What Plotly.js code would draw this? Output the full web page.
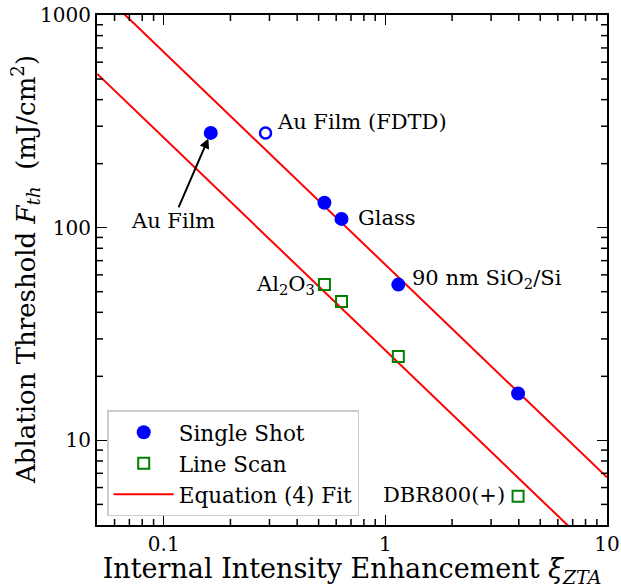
<!DOCTYPE html>
<html>
<head>
<meta charset="utf-8">
<script src="https://cdn.plot.ly/plotly-3.0.1.min.js"></script>
<style>html,body{margin:0;padding:0;background:#fff;}#chart{width:621px;height:588px;}</style>
</head>
<body>
<div id="chart"></div>
<script>
// Single shot (filled circles)
const singleX = [0.163, 0.531, 0.634, 1.144, 3.97];
const singleY = [279, 131, 110, 54, 16.6];
// Au film FDTD (open circle)
const fdtdX = [0.288];
const fdtdY = [279];
// Line scan (open squares)
const lineX = [0.531, 0.634, 1.144, 3.97];
const lineY = [54, 45, 24.8, 5.46];
// Equation (4) fit lines (endpoints)
const fitUpperX = [0.05, 10];
const fitUpperY = [1340, 6.7];
const fitLowerX = [0.05, 10];
const fitLowerY = [530, 2.65];
// Ticks
const xMajor = [0.1, 1, 10];
const xMajorText = ['0.1', '1', '10'];
const yMajor = [10, 100, 1000];
const yMajorText = ['10', '100', '1000'];
const xMinor = [0.06, 0.07, 0.08, 0.09, 0.2, 0.3, 0.4, 0.5, 0.6, 0.7, 0.8, 0.9, 2, 3, 4, 5, 6, 7, 8, 9];
const yMinor = [5, 6, 7, 8, 9, 20, 30, 40, 50, 60, 70, 80, 90, 200, 300, 400, 500, 600, 700, 800, 900];
// Labels
const labels = [
  {text: 'Au Film (FDTD)', x: 0.288, y: 279, xanchor: 'left', xshift: 9, yshift: 11},
  {text: 'Glass', x: 0.634, y: 110, xanchor: 'left', xshift: 14, yshift: 1},
  {text: '90 nm SiO<sub>2</sub>/Si', x: 1.144, y: 54, xanchor: 'left', xshift: 12, yshift: 6},
  {text: 'Al<sub>2</sub>O<sub>3</sub>', x: 0.531, y: 54, xanchor: 'right', xshift: -7, yshift: 0},
  {text: 'DBR800(+)', x: 3.97, y: 5.46, xanchor: 'right', xshift: -11, yshift: 1}
];

const F = 'DejaVu Serif, serif';
const traces = [
  {x: fitUpperX, y: fitUpperY, mode: 'lines', line: {color: '#ff0000', width: 2}, name: 'Equation (4) Fit', showlegend: false},
  {x: fitLowerX, y: fitLowerY, mode: 'lines', line: {color: '#ff0000', width: 2}, name: 'Equation (4) Fit', showlegend: false},
  {x: singleX, y: singleY, mode: 'markers', marker: {color: '#0000ff', size: 14, symbol: 'circle'}, name: 'Single Shot'},
  {x: fdtdX, y: fdtdY, mode: 'markers', marker: {color: '#ffffff', size: 11, symbol: 'circle', line: {color: '#0000ff', width: 2.5}}, showlegend: false},
  {x: lineX, y: lineY, mode: 'markers', marker: {color: 'rgba(0,0,0,0)', size: 11, symbol: 'square', line: {color: '#008000', width: 2}}, name: 'Line Scan'},
  {x: [null], y: [null], mode: 'lines', line: {color: '#ff0000', width: 2}, name: 'Equation (4) Fit'}
];

const annotations = labels.map(l => ({
  x: Math.log10(l.x), y: Math.log10(l.y), xref: 'x', yref: 'y', text: l.text, showarrow: false,
  xanchor: l.xanchor, yanchor: 'middle', xshift: l.xshift, yshift: l.yshift,
  font: {family: F, size: 21, color: '#000'}
}));
annotations.push({
  x: Math.log10(singleX[0]), y: Math.log10(singleY[0]), xref: 'x', yref: 'y', text: 'Au Film',
  showarrow: true, axref: 'pixel', ayref: 'pixel', ax: -38, ay: 88,
  arrowhead: 2, arrowsize: 1, arrowwidth: 2, arrowcolor: '#000', standoff: 6,
  font: {family: F, size: 21, color: '#000'}
});
// y-axis title as rotated annotation
annotations.push({
  xref: 'paper', yref: 'paper', x: 0, y: 0.5, xanchor: 'center', yanchor: 'middle', xshift: -72,
  textangle: -90, showarrow: false,
  text: 'Ablation Threshold <i>F<sub>th</sub></i>  (mJ/cm<sup>2</sup>)',
  font: {family: F, size: 26, color: '#000'}
});

// minor ticks drawn as pixel-sized shapes placed on the axis scale
const shapes = [];
const minorStyle = {color: '#000', width: 1.5};
xMinor.forEach(v => {
  shapes.push({type: 'line', layer: 'above', xref: 'x', yref: 'paper', ysizemode: 'pixel', yanchor: 0, x0: v, x1: v, y0: 0, y1: 6, line: minorStyle});
  shapes.push({type: 'line', layer: 'above', xref: 'x', yref: 'paper', ysizemode: 'pixel', yanchor: 1, x0: v, x1: v, y0: 0, y1: -6, line: minorStyle});
});
yMinor.forEach(v => {
  shapes.push({type: 'line', layer: 'above', yref: 'y', xref: 'paper', xsizemode: 'pixel', xanchor: 0, y0: v, y1: v, x0: 0, x1: 6, line: minorStyle});
  shapes.push({type: 'line', layer: 'above', yref: 'y', xref: 'paper', xsizemode: 'pixel', xanchor: 1, y0: v, y1: v, x0: 0, x1: -6, line: minorStyle});
});

const axisCommon = {
  type: 'log', showgrid: false, zeroline: false, showline: true, linecolor: '#000', linewidth: 2,
  mirror: 'ticks', ticks: 'inside', ticklen: 10, tickwidth: 1.5, tickcolor: '#000',
  tickmode: 'array', tickfont: {family: F, size: 20, color: '#000'}
};

const layout = {
  width: 621, height: 588,
  margin: {l: 97, r: 14, t: 15, b: 63},
  paper_bgcolor: '#fff', plot_bgcolor: '#fff',
  font: {family: F, color: '#000'},
  xaxis: Object.assign({}, axisCommon, {
    range: [Math.log10(0.05), 1], tickvals: xMajor, ticktext: xMajorText,
    title: {text: 'Internal Intensity Enhancement <i>ξ<sub>ZTA</sub></i>', font: {family: F, size: 27, color: '#000'}, standoff: 0}
  }),
  yaxis: Object.assign({}, axisCommon, {
    range: [Math.log10(4), 3], tickvals: yMajor, ticktext: yMajorText
  }),
  legend: {
    x: 0.02, y: 0.225, xanchor: 'left', yanchor: 'top',
    bgcolor: 'rgba(255,255,255,0.9)', bordercolor: '#cccccc', borderwidth: 1.5,
    font: {family: F, size: 21.5, color: '#000'}, itemwidth: 60, tracegroupgap: 0
  },
  annotations: annotations,
  shapes: shapes,
  showlegend: true
};

Plotly.newPlot('chart', traces, layout, {displayModeBar: false, staticPlot: true});
</script>
</body>
</html>
